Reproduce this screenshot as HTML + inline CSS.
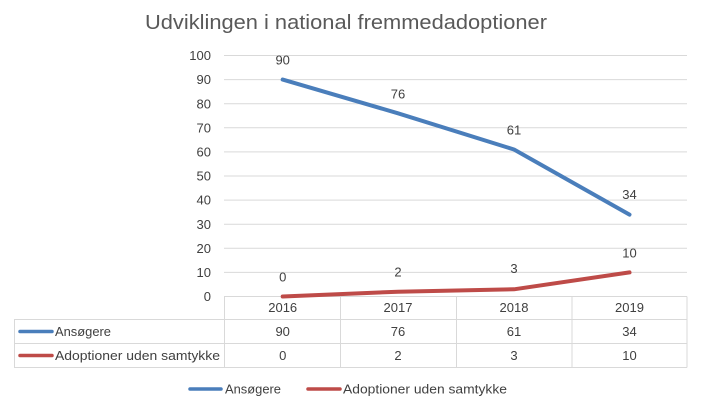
<!DOCTYPE html>
<html>
<head>
<meta charset="utf-8">
<style>
html,body{margin:0;padding:0;background:#fff;}
svg{display:block;}
text{font-family:"Liberation Sans",Arial,sans-serif;}
</style>
</head>
<body>
<svg width="701" height="404" viewBox="0 0 701 404" xmlns="http://www.w3.org/2000/svg">
<rect width="701" height="404" fill="#fff"/>
<!-- title -->
<text x="145" y="29" font-size="20" fill="#595959" textLength="402" lengthAdjust="spacingAndGlyphs">Udviklingen i national fremmedadoptioner</text>
<!-- gridlines -->
<g stroke="#d9d9d9" stroke-width="1">
<line x1="224" x2="687" y1="55.5" y2="55.5"/>
<line x1="224" x2="687" y1="79.6" y2="79.6"/>
<line x1="224" x2="687" y1="103.7" y2="103.7"/>
<line x1="224" x2="687" y1="127.8" y2="127.8"/>
<line x1="224" x2="687" y1="151.9" y2="151.9"/>
<line x1="224" x2="687" y1="176" y2="176"/>
<line x1="224" x2="687" y1="200.1" y2="200.1"/>
<line x1="224" x2="687" y1="224.2" y2="224.2"/>
<line x1="224" x2="687" y1="248.3" y2="248.3"/>
<line x1="224" x2="687" y1="272.4" y2="272.4"/>
<line x1="224" x2="687" y1="296.5" y2="296.5"/>
</g>
<!-- y labels -->
<g font-size="13" fill="#404040" text-anchor="end">
<text x="211" y="60">100</text>
<text x="211" y="84.2">90</text>
<text x="211" y="108.3">80</text>
<text x="211" y="132.4">70</text>
<text x="211" y="156.5">60</text>
<text x="211" y="180.6">50</text>
<text x="211" y="204.7">40</text>
<text x="211" y="228.8">30</text>
<text x="211" y="252.9">20</text>
<text x="211" y="277">10</text>
<text x="211" y="301.1">0</text>
</g>
<!-- table -->
<g stroke="#d9d9d9" stroke-width="1" fill="none">
<line x1="14" x2="687" y1="319.5" y2="319.5"/>
<line x1="14" x2="687" y1="343.5" y2="343.5"/>
<line x1="14" x2="687" y1="367.5" y2="367.5"/>
<line x1="14.5" x2="14.5" y1="319.5" y2="367.5"/>
<line x1="224.5" x2="224.5" y1="296.5" y2="367.5"/>
<line x1="340.5" x2="340.5" y1="296.5" y2="367.5"/>
<line x1="456.5" x2="456.5" y1="296.5" y2="367.5"/>
<line x1="572" x2="572" y1="296.5" y2="367.5"/>
<line x1="687" x2="687" y1="296.5" y2="367.5"/>
</g>
<g font-size="13" fill="#404040" text-anchor="middle">
<text x="282.7" y="312">2016</text>
<text x="398" y="312">2017</text>
<text x="514" y="312">2018</text>
<text x="629.5" y="312">2019</text>
<text x="282.7" y="336">90</text>
<text x="398" y="336">76</text>
<text x="514" y="336">61</text>
<text x="629.5" y="336">34</text>
<text x="282.7" y="360">0</text>
<text x="398" y="360">2</text>
<text x="514" y="360">3</text>
<text x="629.5" y="360">10</text>
</g>
<line x1="20" x2="52" y1="331.5" y2="331.5" stroke="#4a7ebb" stroke-width="3.5" stroke-linecap="round"/>
<line x1="20" x2="52" y1="355.5" y2="355.5" stroke="#be4b48" stroke-width="3.5" stroke-linecap="round"/>
<text x="55" y="336" font-size="13" fill="#404040" textLength="56" lengthAdjust="spacingAndGlyphs">Ansøgere</text>
<text x="55" y="360" font-size="13" fill="#404040" textLength="165" lengthAdjust="spacingAndGlyphs">Adoptioner uden samtykke</text>
<!-- series -->
<polyline points="282.7,296.5 398,291.7 514,289.3 629.5,272.4" fill="none" stroke="#be4b48" stroke-width="4" stroke-linecap="round" stroke-linejoin="round"/>
<polyline points="282.7,79.6 398,113.3 514,149.5 629.5,214.6" fill="none" stroke="#4a7ebb" stroke-width="4" stroke-linecap="round" stroke-linejoin="round"/>
<!-- data labels -->
<g font-size="13" fill="#404040" text-anchor="middle">
<text x="282.7" y="64.6">90</text>
<text x="398" y="98.6">76</text>
<text x="514" y="134.6">61</text>
<text x="629.5" y="199">34</text>
<text x="282.7" y="281.3">0</text>
<text x="398" y="276.3">2</text>
<text x="514" y="273">3</text>
<text x="629.5" y="257.3">10</text>
</g>
<!-- legend -->
<line x1="190" x2="221" y1="389" y2="389" stroke="#4a7ebb" stroke-width="3.5" stroke-linecap="round"/>
<text x="225" y="393.5" font-size="13" fill="#404040" textLength="56" lengthAdjust="spacingAndGlyphs">Ansøgere</text>
<line x1="308" x2="340" y1="389" y2="389" stroke="#be4b48" stroke-width="3.5" stroke-linecap="round"/>
<text x="343" y="393.5" font-size="13" fill="#404040" textLength="164" lengthAdjust="spacingAndGlyphs">Adoptioner uden samtykke</text>
</svg>
</body>
</html>
